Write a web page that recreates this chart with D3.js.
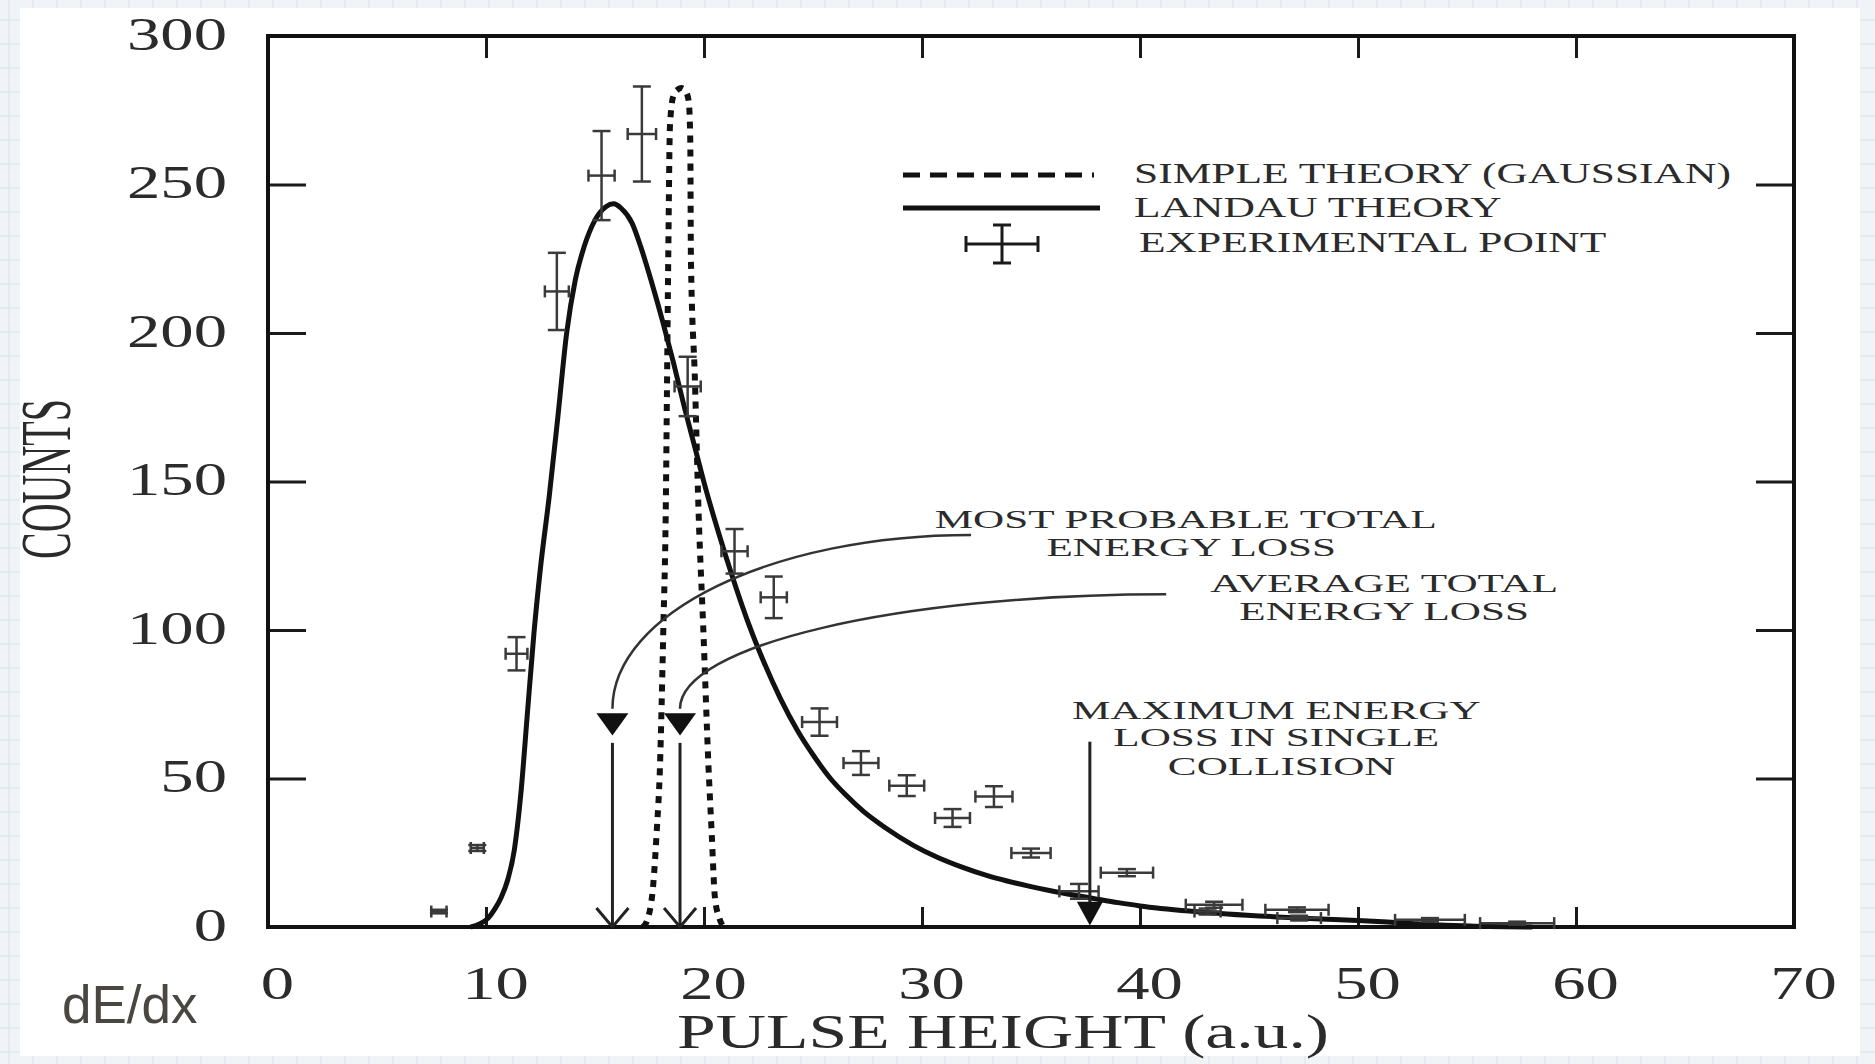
<!DOCTYPE html>
<html>
<head>
<meta charset="utf-8">
<script src="https://cdn.jsdelivr.net/npm/d3@7"></script>
<style>
  body { margin: 0; background: #f1f4f7; }
  svg { display: block; }
  .serif { font-family: "Liberation Serif", "Times New Roman", serif; fill: #2b2b2b; }
</style>
</head>
<body>
<div id="chart"></div>
<script>
var xTicks = [0, 10, 20, 30, 40, 50, 60, 70];
var yTicks = [0, 50, 100, 150, 200, 250, 300];

// Landau theory curve
var landauX = [9.3, 9.7, 10.1, 10.4, 10.7, 11.0, 11.3, 11.6, 11.9, 12.2, 12.5, 12.9, 13.3, 13.7, 14.1, 14.5, 15.0, 15.5, 15.85, 16.2,
    16.7, 17.1, 17.6, 18.1, 18.6, 19.1, 19.6, 20.1, 20.7, 21.3, 22.0, 22.7, 23.5, 24.3, 25.0, 25.8, 26.5, 27.3, 28.3, 29.6,
    30.7, 31.9, 33.0, 33.9, 35.0, 35.9, 37.0, 37.8, 39.0, 40.0, 42.4, 44.0, 46.3, 48.0, 50.0, 52.2, 54.0, 56.0, 58.0];
var landauY = [0, 1, 3, 6, 10, 16, 26, 45, 72, 99, 121, 145, 172, 200, 218, 229, 238, 242.5, 243.5, 242,
    237, 229, 217, 204, 190, 175, 161, 147, 132, 118, 103, 90, 77, 66, 58, 50, 44.5, 39, 33.5, 27.5,
    23.5, 20, 17.3, 15.5, 13.6, 12.2, 10.7, 9.7, 8.2, 7.1, 5.3, 4.4, 3.4, 2.8, 2.2, 1.3, 0.6, 0.2, 0];

// simple (gaussian) theory
var gaussX = [17.2, 17.43, 17.68, 17.83, 17.98, 18.13, 18.25, 18.3, 18.36, 18.44, 18.6, 18.8, 18.97, 19.15, 19.3,
    19.37, 19.4, 19.58, 19.75, 19.97, 20.2, 20.35, 20.5, 20.7, 20.9];
var gaussY = [0, 3, 15, 32, 54, 99, 143, 180, 225, 270, 280, 282, 282.5, 281.5, 278,
    265, 225, 185, 140, 100, 55, 32, 10, 3, 0];

// experimental points
var expX = [7.84, 9.6, 11.4, 13.25, 15.3, 17.15, 19.25, 21.4, 23.2, 25.3, 27.2, 29.3, 31.4, 33.3, 35.0, 37.2, 39.4, 43.1, 43.4, 47.2, 47.3, 53.3, 57.3];
var expY = [5.2, 26.6, 92, 214, 253, 267, 182, 126.5, 111, 69, 55.2, 47.6, 36.7, 43.9, 24.9, 12, 18.3, 5.2, 7.5, 5.8, 3.0, 2.4, 1.3];
var expXerr = [0.35, 0.3, 0.5, 0.55, 0.6, 0.65, 0.6, 0.6, 0.6, 0.8, 0.8, 0.8, 0.8, 0.85, 0.9, 0.9, 1.2, 0.6, 1.3, 1.45, 1.0, 1.6, 1.7];
var expYerr = [0.6, 1.0, 5.6, 13, 15, 16, 10, 7.5, 7, 4.6, 4, 3.5, 3, 3.5, 1.5, 2.5, 1.2, 1, 1, 0.8, 0.8, 0.6, 0.5];

var legendLabels = ["SIMPLE THEORY (GAUSSIAN)", "LANDAU THEORY", "EXPERIMENTAL POINT"];
var mostProbable = 15.8;
var averageLoss = 18.9;
var maxLoss = 37.7;

var width = 1875;
var height = 1064;
var stretch = 1.45;   // the scanned figure is wider than it is tall

var svg = d3.select("#chart")
    .append("svg")
    .attr("width", width)
    .attr("height", height);

// graph-paper slide background
var pat = svg.append("defs").append("pattern")
    .attr("id", "paper")
    .attr("width", 24).attr("height", 24)
    .attr("patternUnits", "userSpaceOnUse");
pat.append("rect").attr("width", 24).attr("height", 24).attr("fill", "#f1f4f7");
pat.append("path").attr("d", "M9 0V24M0 20H24").attr("stroke", "#d3e2f0").attr("fill", "none");
svg.append("rect").attr("width", width).attr("height", height).attr("fill", "url(#paper)");
svg.append("rect").attr("x", 20).attr("y", 8).attr("width", 1840).attr("height", 1048).attr("fill", "#fff");

var x = d3.scaleLinear().domain([0, 70]).range([268, 1794]);
var y = d3.scaleLinear().domain([0, 300]).range([927, 36]);

function styleTicks(g) {
    g.select(".domain").remove();
    g.selectAll(".tick line").attr("stroke", "#1a1a1a").attr("stroke-width", 3);
}

var gLeft = svg.append("g")
    .attr("transform", "translate(" + x(0) + ",0)")
    .call(d3.axisLeft(y).tickValues(yTicks).tickSizeInner(-38).tickSizeOuter(0));
styleTicks(gLeft);
gLeft.selectAll("text")
    .attr("x", null).attr("dy", null)
    .attr("class", "serif")
    .attr("font-size", 46)
    .attr("transform", "translate(-41,13) scale(" + stretch + ",1)");

var gRight = svg.append("g")
    .attr("transform", "translate(" + x(70) + ",0)")
    .call(d3.axisRight(y).tickValues(yTicks.slice(1, -1)).tickSizeInner(-38).tickSizeOuter(0).tickFormat(""));
styleTicks(gRight);

var gTop = svg.append("g")
    .attr("transform", "translate(0," + y(300) + ")")
    .call(d3.axisTop(x).tickValues(xTicks.slice(1, -1)).tickSizeInner(-22).tickSizeOuter(0).tickFormat(""));
styleTicks(gTop);

var gBottom = svg.append("g")
    .attr("transform", "translate(0," + y(0) + ")")
    .call(d3.axisBottom(x).tickValues(xTicks).tickSizeInner(-20).tickSizeOuter(0));
styleTicks(gBottom);
gBottom.selectAll("text")
    .attr("y", null).attr("dy", null)
    .attr("class", "serif")
    .attr("font-size", 46)
    .attr("transform", "translate(9,72) scale(" + stretch + ",1)");

// frame
svg.append("rect")
    .attr("x", x(0)).attr("y", y(300))
    .attr("width", x(70) - x(0)).attr("height", y(0) - y(300))
    .attr("fill", "none").attr("stroke", "#111").attr("stroke-width", 4);

function label(txt, px, py, size, anchor, sx) {
    svg.append("text")
        .attr("class", "serif")
        .attr("font-size", size)
        .attr("text-anchor", anchor || "middle")
        .attr("transform", "translate(" + px + "," + py + ") scale(" + (sx || stretch) + ",1)")
        .text(txt);
}

label("PULSE HEIGHT (a.u.)", 1003, 1048, 48);
svg.append("text")
    .attr("class", "serif")
    .attr("font-size", 40)
    .attr("text-anchor", "middle")
    .attr("transform", "translate(70,479) scale(1.8,1) rotate(-90)")
    .text("COUNTS");

svg.append("text")
    .attr("x", 62).attr("y", 1023)
    .attr("font-family", "'Liberation Sans', Arial, sans-serif")
    .attr("font-size", 53)
    .attr("fill", "#4a4641")
    .text("dE/dx");

// curves
var line = d3.line()
    .x(function (d) { return x(d[0]); })
    .y(function (d) { return y(d[1]); })
    .curve(d3.curveMonotoneX);

svg.append("path")
    .datum(d3.zip(gaussX, gaussY))
    .attr("d", line)
    .attr("fill", "none")
    .attr("stroke", "#111")
    .attr("stroke-width", 6)
    .attr("stroke-dasharray", "7,7");

svg.append("path")
    .datum(d3.zip(landauX, landauY))
    .attr("d", line)
    .attr("fill", "none")
    .attr("stroke", "#111")
    .attr("stroke-width", 5);

// experimental points with error bars
var pts = svg.selectAll(".pt")
    .data(d3.range(expX.length))
    .enter()
    .append("g")
    .attr("class", "pt")
    .attr("stroke", "#3a3a3a")
    .attr("stroke-width", 2.5);

pts.append("line")
    .attr("x1", function (i) { return x(expX[i] - expXerr[i]); })
    .attr("x2", function (i) { return x(expX[i] + expXerr[i]); })
    .attr("y1", function (i) { return y(expY[i]); })
    .attr("y2", function (i) { return y(expY[i]); });
pts.append("line")
    .attr("x1", function (i) { return x(expX[i]); })
    .attr("x2", function (i) { return x(expX[i]); })
    .attr("y1", function (i) { return y(expY[i] - expYerr[i]); })
    .attr("y2", function (i) { return y(expY[i] + expYerr[i]); });
[-1, 1].forEach(function (s) {
    pts.append("line")
        .attr("x1", function (i) { return x(expX[i] + s * expXerr[i]); })
        .attr("x2", function (i) { return x(expX[i] + s * expXerr[i]); })
        .attr("y1", function (i) { return y(expY[i]) - 6; })
        .attr("y2", function (i) { return y(expY[i]) + 6; });
    pts.append("line")
        .attr("x1", function (i) { return x(expX[i]) - 9; })
        .attr("x2", function (i) { return x(expX[i]) + 9; })
        .attr("y1", function (i) { return y(expY[i] + s * expYerr[i]); })
        .attr("y2", function (i) { return y(expY[i] + s * expYerr[i]); });
});

// annotation arrows
function curvedArrow(x0, y0, xv) {
    var sx = x(x0), sy = y(y0), ex = x(xv), ey = y(73.5);
    var k = 0.552;
    svg.append("path")
        .attr("d", "M" + sx + "," + sy + " C" + (sx - k * (sx - ex)) + "," + sy + " " + ex + "," + (ey - k * (ey - sy)) + " " + ex + "," + ey)
        .attr("fill", "none").attr("stroke", "#333").attr("stroke-width", 2.5);
    svg.append("path")
        .attr("d", "M" + (ex - 16) + "," + y(72) + "L" + (ex + 16) + "," + y(72) + "L" + ex + "," + y(64.5) + "Z")
        .attr("fill", "#111");
    svg.append("line")
        .attr("x1", ex).attr("x2", ex).attr("y1", y(62)).attr("y2", y(0))
        .attr("stroke", "#222").attr("stroke-width", 3);
    svg.append("path")
        .attr("d", "M" + (ex - 16) + "," + (y(0) - 19) + "L" + ex + "," + y(0) + "L" + (ex + 16) + "," + (y(0) - 19))
        .attr("fill", "none").attr("stroke", "#222").attr("stroke-width", 3);
}
curvedArrow(32.25, 132, mostProbable);
curvedArrow(41.2, 112, averageLoss);

svg.append("line")
    .attr("x1", x(maxLoss)).attr("x2", x(maxLoss))
    .attr("y1", y(62.4)).attr("y2", y(8))
    .attr("stroke", "#222").attr("stroke-width", 3);
svg.append("path")
    .attr("d", "M" + (x(maxLoss) - 13) + "," + y(8.5) + "L" + (x(maxLoss) + 13) + "," + y(8.5) + "L" + x(maxLoss) + "," + y(0.5) + "Z")
    .attr("fill", "#111");

var noteSize = 26, noteStretch = 1.66;
label("MOST PROBABLE TOTAL", x(42.1), y(134.5), noteSize, "middle", noteStretch);
label("ENERGY LOSS", x(42.35), y(124.9), noteSize, "middle", noteStretch);
label("AVERAGE TOTAL", x(51.2), y(112.8), noteSize, "middle", noteStretch);
label("ENERGY LOSS", x(51.2), y(103.5), noteSize, "middle", noteStretch);
label("MAXIMUM ENERGY", x(46.25), y(70), noteSize, "middle", noteStretch);
label("LOSS IN SINGLE", x(46.25), y(60.8), noteSize, "middle", noteStretch);
label("COLLISION", x(46.5), y(51.2), noteSize, "middle", noteStretch);

// legend
svg.append("line")
    .attr("x1", 903).attr("x2", 1094).attr("y1", 175).attr("y2", 175)
    .attr("stroke", "#111").attr("stroke-width", 5).attr("stroke-dasharray", "17,10");
svg.append("line")
    .attr("x1", 903).attr("x2", 1100).attr("y1", 208).attr("y2", 208)
    .attr("stroke", "#111").attr("stroke-width", 5);
var lg = svg.append("g").attr("stroke", "#1a1a1a").attr("stroke-width", 3);
lg.append("line").attr("x1", 966).attr("x2", 1038).attr("y1", 244).attr("y2", 244);
lg.append("line").attr("x1", 1002).attr("x2", 1002).attr("y1", 225).attr("y2", 263);
lg.append("line").attr("x1", 966).attr("x2", 966).attr("y1", 236).attr("y2", 252);
lg.append("line").attr("x1", 1038).attr("x2", 1038).attr("y1", 236).attr("y2", 252);
lg.append("line").attr("x1", 993).attr("x2", 1011).attr("y1", 225).attr("y2", 225);
lg.append("line").attr("x1", 993).attr("x2", 1011).attr("y1", 263).attr("y2", 263);

label(legendLabels[0], 1134, 183, 30, "start");
label(legendLabels[1], 1134, 217, 30, "start");
label(legendLabels[2], 1139, 252, 30, "start");
</script>
</body>
</html>
